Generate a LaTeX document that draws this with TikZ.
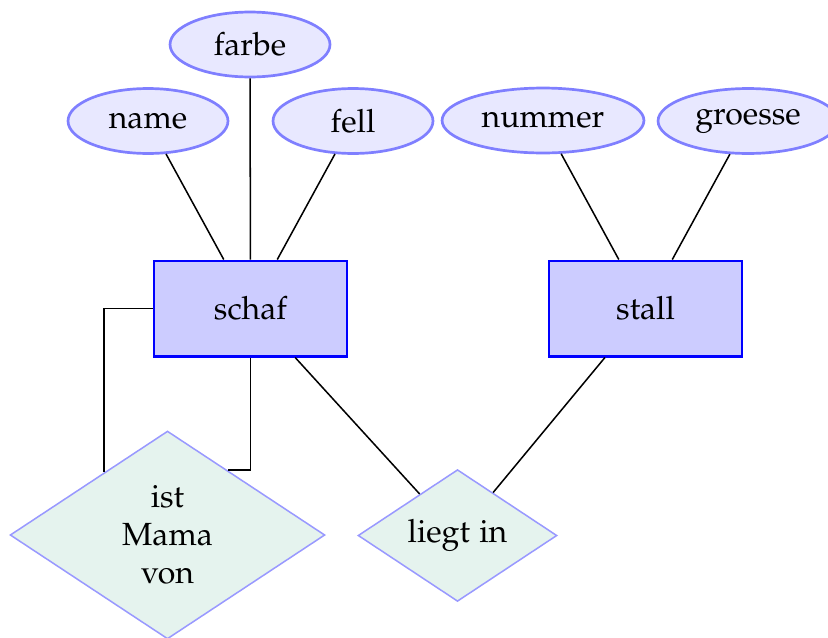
\documentclass[tikz,border=0pt]{standalone}
\usepackage[T1]{fontenc}
\usepackage{mathpazo}
\usetikzlibrary{shapes.geometric,calc}
\definecolor{attrfill}{HTML}{E8E8FF}
\definecolor{attrdraw}{HTML}{7F7FFF}
\definecolor{entfill}{HTML}{CCCCFF}
\definecolor{entdraw}{HTML}{0000FF}
\definecolor{relfill}{HTML}{E5F3EE}
\definecolor{reldraw}{HTML}{9999FF}
\tikzset{
  attr/.style={ellipse, draw=attrdraw, fill=attrfill, line width=0.8pt, inner sep=0pt,
    minimum width=1.667cm, minimum height=0.677cm},
  entity/.style={rectangle, draw=entdraw, fill=entfill, line width=0.6pt, inner sep=0pt,
    minimum width=2.01cm, minimum height=1.0cm},
  rel/.style={diamond, draw=reldraw, fill=relfill, line width=0.45pt, inner sep=0pt, align=center},
  conn/.style={draw=black, line width=0.45pt}
}
\begin{document}
\begin{tikzpicture}[x=0.0104167cm, y=-0.0104167cm, font=\fontfamily{pplx}\fontsize{9.5}{11.3}\selectfont]
\useasboundingbox (0,0) rectangle (828,637);
% entities
\node[entity] (schaf) at (250.5,308.5) {schaf};
\node[entity] (stall) at (645.5,308.5) {stall};
% attributes
\node[attr] (farbe) at (250,44.5) {farbe};
\node[attr] (name) at (148,121) {name};
\node[attr] (fell) at (353,121) {fell};
\node[attr, minimum width=2.104cm] (nummer) at (543,120.5) {nummer};
\node[attr, minimum width=1.875cm] (groesse) at (748,121) {groesse};
% relations
\node[rel, minimum width=3.281cm, minimum height=2.167cm] (mama) at (167.5,535) {ist\\Mama\\von};
\node[rel, minimum width=2.073cm, minimum height=1.365cm] (liegt) at (457.5,535.5) {liegt in};
% connectors
\draw[conn] (name) -- (schaf);
\draw[conn] (farbe) -- (schaf);
\draw[conn] (fell) -- (schaf);
\draw[conn] (nummer) -- (stall);
\draw[conn] (groesse) -- (stall);
\draw[conn] (schaf) -- (liegt);
\draw[conn] (stall) -- (liegt);
\coordinate (mA) at ($(mama.north)!0.4!(mama.west)$);
\coordinate (mB) at ($(mama.north)!0.38!(mama.east)$);
\draw[conn] (schaf.west) -| (mA);
\draw[conn] (schaf.south) |- (mB);
\end{tikzpicture}
\end{document}
